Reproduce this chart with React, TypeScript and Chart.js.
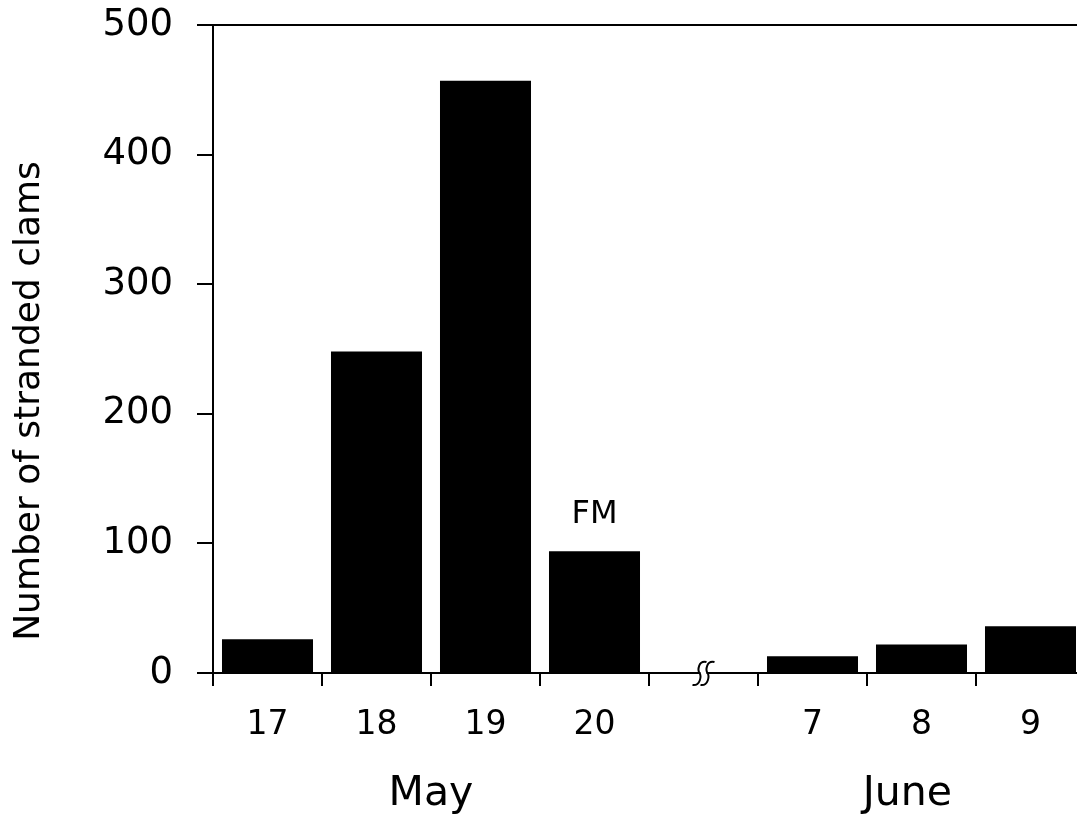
import { useEffect, useRef } from 'react';
import { Chart, registerables } from 'chart.js';

Chart.register(...registerables);

const FONT = '"DejaVu Sans", sans-serif';

// Sampling days (blank slot marks the break in the time axis)
const categories = ['17', '18', '19', '20', '', '7', '8', '9'];
// Number of stranded clams per day
const stranded = [26, 248, 457, 94, null, 13, 22, 36];
const yTickValues = [0, 100, 200, 300, 400, 500];
const yTitle = 'Number of stranded clams';
const monthLabels = ['May', 'June'];
const monthAnchors = [1.5, 5.87];
const breakIndex = 4;
const noteIndex = 3;
const noteText = 'FM';

const decorations = {
  id: 'decorations',
  afterDraw(chart: any) {
    const { ctx, chartArea, scales } = chart;
    const x = scales.x;
    const y = scales.y;
    ctx.save();
    ctx.strokeStyle = '#000';
    ctx.fillStyle = '#000';
    ctx.lineWidth = 2;

    // frame line along the top
    ctx.beginPath();
    ctx.moveTo(chartArea.left, chartArea.top);
    ctx.lineTo(chart.width, chartArea.top);
    ctx.stroke();

    // full-moon note above its bar
    const v = stranded[noteIndex] as number;
    ctx.font = `32px ${FONT}`;
    ctx.textAlign = 'center';
    ctx.textBaseline = 'alphabetic';
    ctx.fillText(noteText, x.getPixelForValue(noteIndex), y.getPixelForValue(v) - 28);

    // month labels
    ctx.font = `41px ${FONT}`;
    monthLabels.forEach((m, i) => {
      ctx.fillText(m, x.getPixelForValue(monthAnchors[i]), 805);
    });

    // y-axis title
    ctx.save();
    ctx.translate(30, 401);
    ctx.rotate(-Math.PI / 2);
    ctx.font = `36px ${FONT}`;
    ctx.textBaseline = 'middle';
    ctx.fillText(yTitle, 0, 0);
    ctx.restore();

    // axis break symbol
    const gx = x.getPixelForValue(breakIndex);
    const gy = y.getPixelForValue(0);
    ctx.fillStyle = '#fff';
    ctx.fillRect(gx - 3, gy - 2, 6, 4);
    const sCurve = (cx: number) => {
      ctx.beginPath();
      ctx.moveTo(cx + 7, gy - 11);
      ctx.bezierCurveTo(cx - 1, gy - 13, cx - 2, gy - 3, cx, gy);
      ctx.bezierCurveTo(cx + 2, gy + 3, cx + 1, gy + 13, cx - 7, gy + 12);
      ctx.stroke();
    };
    sCurve(gx - 4);
    sCurve(gx + 4);
    ctx.restore();
  },
};

export default function App() {
  const ref = useRef<HTMLCanvasElement | null>(null);

  useEffect(() => {
    if (!ref.current) return;
    const chart = new Chart(ref.current, {
      type: 'bar',
      data: {
        labels: categories,
        datasets: [
          {
            data: stranded,
            backgroundColor: '#000',
            borderWidth: 0,
            barPercentage: 0.835,
            categoryPercentage: 1,
          },
        ],
      },
      options: {
        responsive: false,
        animation: false,
        layout: { padding: { left: 0, top: 25, right: 15, bottom: 0 } },
        plugins: {
          legend: { display: false },
          tooltip: { enabled: false },
        },
        scales: {
          x: {
            offset: true,
            grid: {
              display: true,
              offset: true,
              drawOnChartArea: false,
              drawTicks: true,
              tickLength: 13,
              color: '#000',
              lineWidth: 2,
            },
            border: { display: true, color: '#000', width: 2 },
            ticks: {
              color: '#000',
              font: { family: FONT, size: 33 },
              padding: 20,
              maxRotation: 0,
              autoSkip: false,
            },
            afterFit(scale: any) {
              scale.height = 141;
              scale.paddingLeft = 0;
              scale.paddingRight = 0;
            },
          },
          y: {
            min: 0,
            max: 500,
            afterBuildTicks(scale: any) {
              scale.ticks = yTickValues.map((value) => ({ value }));
            },
            grid: {
              display: true,
              drawOnChartArea: false,
              drawTicks: true,
              tickLength: 16,
              color: '#000',
              lineWidth: 2,
            },
            border: { display: true, color: '#000', width: 2 },
            ticks: {
              color: '#000',
              font: { family: FONT, size: 37 },
              padding: 24,
            },
            afterFit(scale: any) {
              scale.width = 213;
              scale.paddingTop = 0;
              scale.paddingBottom = 0;
            },
          },
        },
      },
      plugins: [decorations],
    });
    return () => chart.destroy();
  }, []);

  return (
    <div
      style={{
        position: 'fixed',
        left: 0,
        top: 0,
        width: 1077,
        height: 814,
        overflow: 'hidden',
        background: '#fff',
      }}
    >
      <canvas ref={ref} width={1100} height={814} style={{ display: 'block' }} />
    </div>
  );
}
